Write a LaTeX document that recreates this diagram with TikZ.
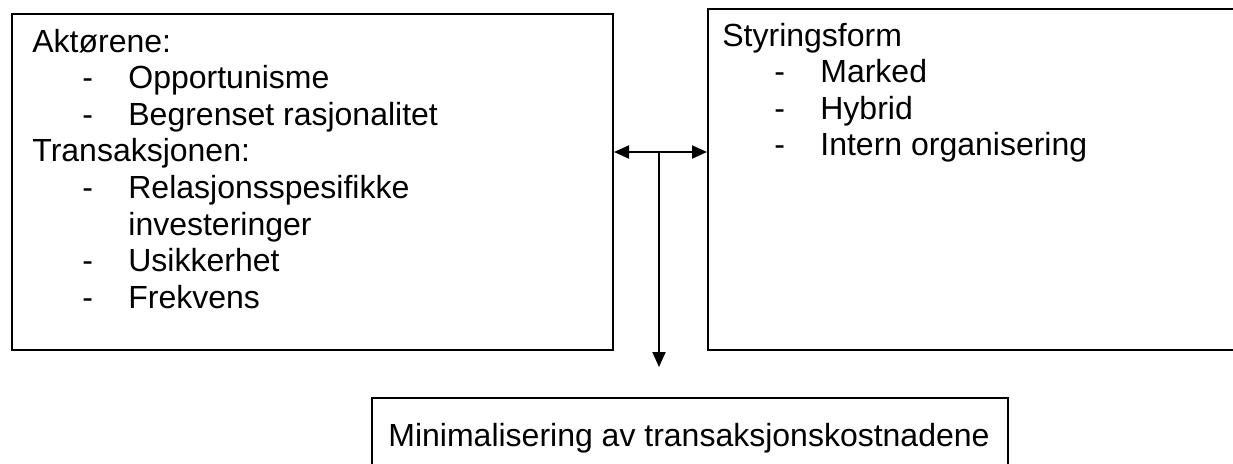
\documentclass[tikz,border=0pt]{standalone}
\usepackage{fontspec}
\setmainfont{Liberation Sans}
\usetikzlibrary{arrows.meta}

% one unit of the drawing
\newdimen\px
\px=0.5pt
% indented list line with a leading dash
\newcommand{\dashitem}[2][50]{\hspace*{#1\px}\makebox[46\px][l]{-}#2}
\newcommand{\contitem}[2][50]{\hspace*{#1\px}\hspace*{46\px}#2}

\begin{document}
\begin{tikzpicture}[x=0.5pt, y=-0.5pt,
        box/.style={draw, line width=1pt, inner sep=0pt, anchor=north west},
        boxtext/.style={anchor=base west, inner sep=0pt, font=\fontsize{16pt}{18.3pt}\selectfont},
        >={Triangle[length=7.5pt, width=6.5pt]}]
    \useasboundingbox (0,0) rectangle (1233,463);
    \clip (0,0) rectangle (1233,463);

    % Drawing the three frames
    \node[box, minimum width=300.5pt, minimum height=168pt] (drivers) at (11,13) {};
    \node[box, minimum width=269pt, minimum height=170.5pt] (governance) at (707,8) {};
    \node[box, minimum width=318pt, minimum height=45pt] (outcome) at (371,397) {};

    % Text inside the frames
    \node[boxtext] (driverstext) at (32,52) {\parbox[t]{560\px}{%
        Aktørene:\\
        \dashitem{Opportunisme}\\
        \dashitem{Begrenset rasjonalitet}\\
        Transaksjonen:\\
        \dashitem{Relasjonsspesifikke}\\
        \contitem{investeringer}\\
        \dashitem{Usikkerhet}\\
        \dashitem{Frekvens}}};
    \node[boxtext] (governancetext) at (722,46) {\parbox[t]{480\px}{%
        Styringsform\\
        \dashitem[52]{Marked}\\
        \dashitem[52]{Hybrid}\\
        \dashitem[52]{Intern organisering}}};
    \node[boxtext] (outcometext) at (388,446) {Minimalisering av transaksjonskostnadene};

    % Drawing the connectors
    \coordinate (split) at (659,152);
    \coordinate (droptip) at (659,367);
    \draw[line width=1pt, <->] (drivers.east |- split) -- (governance.west |- split);
    \draw[line width=1pt, ->] (split) -- (droptip);
\end{tikzpicture}
\end{document}
